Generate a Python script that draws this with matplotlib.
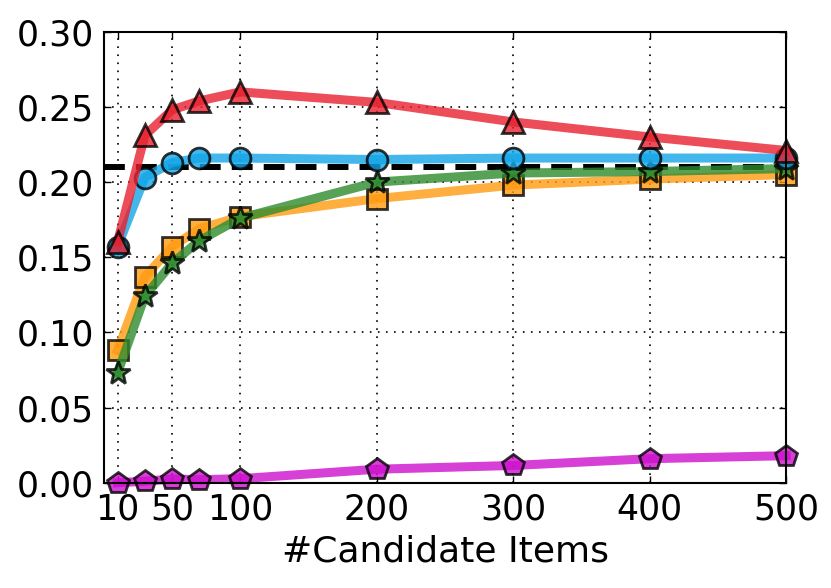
import numpy as np
import matplotlib
matplotlib.use('Agg')
import matplotlib.pyplot as plt

# candidate list sizes
x = [10, 30, 50, 70, 100, 200, 300, 400, 500]
xticks = [10, 50, 100, 200, 300, 400, 500]

red_tri = [0.160, 0.231, 0.248, 0.254, 0.260, 0.253, 0.240, 0.230, 0.221]
blue_circ = [0.157, 0.203, 0.213, 0.216, 0.216, 0.215, 0.216, 0.216, 0.216]
orange_sq = [0.088, 0.137, 0.157, 0.169, 0.177, 0.189, 0.198, 0.202, 0.205]
green_star = [0.073, 0.124, 0.146, 0.161, 0.176, 0.200, 0.206, 0.207, 0.209]
magenta_pent = [0.000, 0.001, 0.0025, 0.002, 0.0027, 0.009, 0.0115, 0.016, 0.018]
baseline = 0.210

plt.rcParams['font.family'] = 'DejaVu Sans'
plt.rcParams['lines.scale_dashes'] = False
plt.rcParams['axes.axisbelow'] = False

fig = plt.figure(figsize=(8.31, 5.88), dpi=100)
ax = fig.add_axes([0.125, 0.179, 0.821, 0.767])

ax.plot([0, 500], [baseline, baseline], color='black', lw=4.3, dashes=(15, 8), zorder=2)

series = [
    (orange_sq, '#ff9a10', 's', 15),
    (green_star, '#2e8b2e', '*', 18),
    (blue_circ, '#14a5e6', 'o', 15),
    (red_tri, '#e8202e', '^', 16),
    (magenta_pent, '#cc10cc', 'p', 16),
]
for ys, col, mk, ms in series:
    ax.plot(x, ys, color=col, lw=6.5, marker=mk, ms=ms, mfc=col, mec='black',
            mew=2, alpha=0.8, clip_on=False, zorder=3)

ax.set_xlim(0, 500)
ax.set_ylim(0, 0.30)
ax.set_xticks(xticks)
ax.set_yticks(np.arange(0, 0.301, 0.05))
ax.set_yticklabels(['%.2f' % v for v in np.arange(0, 0.301, 0.05)])
ax.tick_params(direction='in', length=5, width=1, labelsize=25, top=True, right=True, pad=7)
ax.grid(True, color='black', lw=1.2, dashes=(1.2, 4.6), zorder=4)
for s in ax.spines.values():
    s.set_linewidth(1.5)
    s.set_zorder(5)
ax.set_xlabel('#Candidate Items', fontsize=26, labelpad=6)

fig.savefig('out.png', dpi=100)
